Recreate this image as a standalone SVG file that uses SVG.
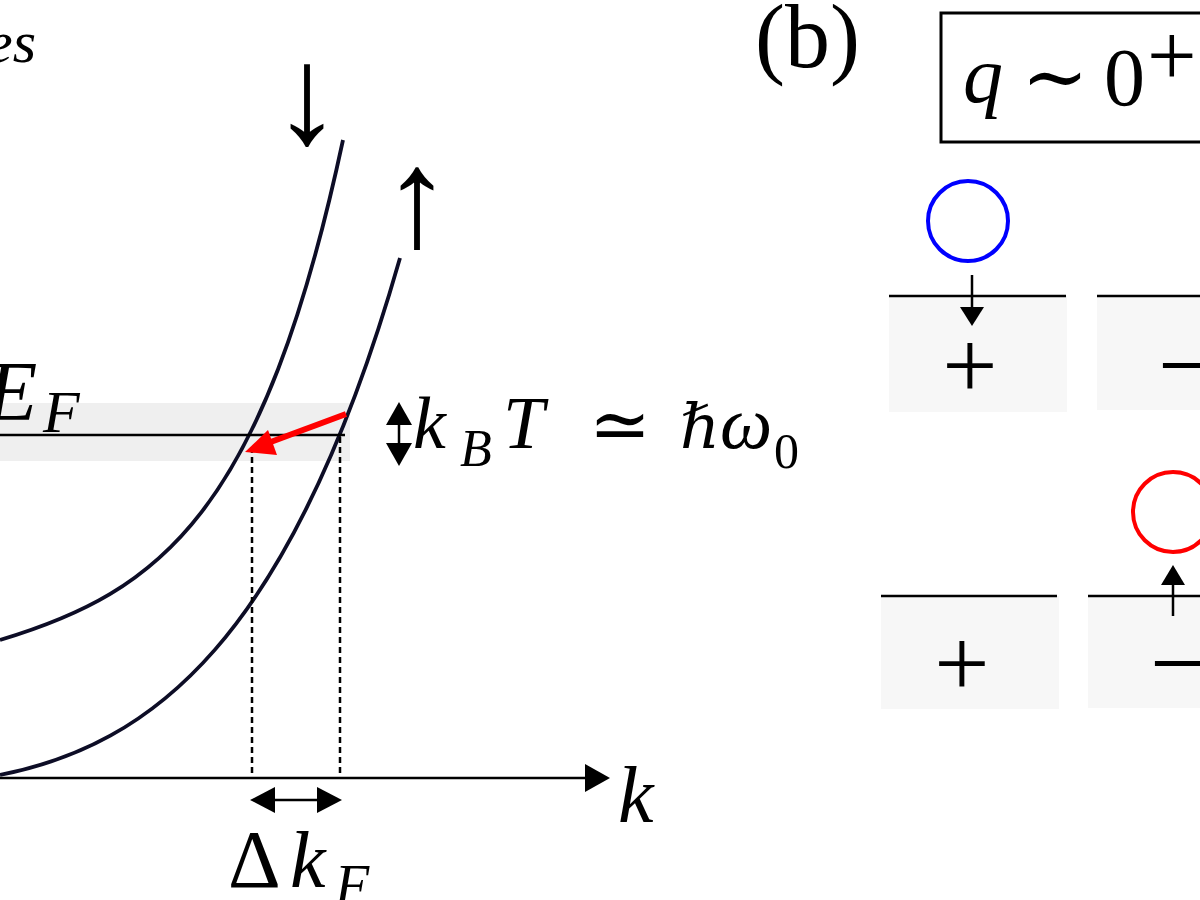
<svg xmlns="http://www.w3.org/2000/svg" width="1200" height="900" viewBox="0 0 1200 900">
<style>
.m{font-family:"Liberation Serif","DejaVu Serif",serif;font-style:italic;fill:#000}
.r{font-family:"Liberation Serif","DejaVu Serif",serif;fill:#000}
.curve{fill:none;stroke:#0d0d26;stroke-width:3.8}
.ln{stroke:#000;stroke-width:2.5;fill:none}
.dot{stroke:#000;stroke-width:2.5;stroke-dasharray:6 4;fill:none}
.band{fill:#efefef}
.cell{fill:#f7f7f7}
.ah{fill:#000}
</style>
<rect width="1200" height="900" fill="#fff"/>
<g id="panel-a">
  <text id="label-es" class="m" x="-14" y="62" font-size="60">es</text>
  <g id="fermi-band">
    <rect class="band" x="0" y="403" width="350" height="58"/>
  </g>
  <g id="connectors">
    <path class="curve" d="M0,640 C160,592 263,513.6 343,140"/>
    <path class="curve" d="M0,775 C150,745 290,643 400,258"/>
    <line class="ln" x1="0" y1="435" x2="345" y2="435"/>
    <line class="dot" x1="252" y1="447" x2="252" y2="777"/>
    <line class="dot" x1="340" y1="437" x2="340" y2="777"/>
    <line class="ln" x1="0" y1="778" x2="590" y2="778"/>
    <polygon class="ah" points="610,778 585,764 585,792"/>
    <line class="ln" x1="270" y1="800" x2="322" y2="800"/>
    <polygon class="ah" points="250,800 275,787 275,813"/>
    <polygon class="ah" points="342,800 317,787 317,813"/>
    <line class="ln" x1="399" y1="420" x2="399" y2="448"/>
    <polygon class="ah" points="399,402 386,425 412,425"/>
    <polygon class="ah" points="399,466 386,443 412,443"/>
    <line x1="346" y1="414" x2="268" y2="443" stroke="#ff0000" stroke-width="6"/>
    <polygon fill="#ff0000" points="245,452 268,430 277,455"/>
  </g>
  <g id="spin-down">
    <text class="r" x="307" y="143" font-size="140" text-anchor="middle">↓</text>
  </g>
  <g id="spin-up">
    <text class="r" x="417" y="246" font-size="140" text-anchor="middle">↑</text>
  </g>
  <g id="label-EF">
    <text class="m" x="-14" y="420" font-size="84">E</text>
    <text class="m" x="43" y="432" font-size="60">F</text>
  </g>
  <g id="label-kT">
    <text class="m" x="413" y="448" font-size="74">k</text>
    <text class="m" x="460" y="466" font-size="52">B</text>
    <text class="m" x="503" y="448" font-size="74">T</text>
    <text class="r" x="620" y="450" font-size="74" text-anchor="middle">≃</text>
    <text class="m" x="680" y="448" font-size="62">ℏ</text>
    <text class="m" x="720" y="448" font-size="74">ω</text>
    <text class="r" x="774" y="468" font-size="50">0</text>
  </g>
  <g id="label-k">
    <text class="m" x="618" y="822" font-size="80">k</text>
  </g>
  <g id="label-dkF">
    <text class="r" x="228" y="887" font-size="82">Δ</text>
    <text class="m" x="290" y="887" font-size="80">k</text>
    <text class="m" x="335" y="904" font-size="56">F</text>
  </g>
</g>
<g id="panel-b">
  <text id="label-b" class="r" x="755" y="67" font-size="90">(b)</text>
  <g id="q-box">
    <rect x="941" y="13" width="280" height="129" fill="none" stroke="#000" stroke-width="3"/>
    <text class="m" x="963" y="102" font-size="80">q</text>
    <text class="r" x="1055" y="104" font-size="80" text-anchor="middle">∼</text>
    <text class="r" x="1104" y="105" font-size="82">0</text>
    <text class="r" x="1147" y="85" font-size="88">+</text>
  </g>
  <g id="cell-top-left">
    <rect class="cell" x="889" y="296" width="178" height="116"/>
    <line class="ln" x1="889" y1="296" x2="1066" y2="296"/>
    <text class="r" x="970" y="398" font-size="98" text-anchor="middle">+</text>
  </g>
  <g id="cell-top-right">
    <rect class="cell" x="1097" y="296" width="110" height="114"/>
    <line class="ln" x1="1097" y1="296" x2="1205" y2="296"/>
    <text class="r" x="1158" y="398" font-size="98">−</text>
  </g>
  <g id="cell-bottom-left">
    <rect class="cell" x="881" y="596" width="178" height="113"/>
    <line class="ln" x1="881" y1="596" x2="1057" y2="596"/>
    <text class="r" x="962" y="696" font-size="98" text-anchor="middle">+</text>
  </g>
  <g id="cell-bottom-right">
    <rect class="cell" x="1088" y="596" width="120" height="112"/>
    <line class="ln" x1="1088" y1="596" x2="1205" y2="596"/>
    <text class="r" x="1150" y="696" font-size="98">−</text>
  </g>
  <g id="particle-blue">
    <circle cx="968" cy="221" r="40" fill="none" stroke="#0000ff" stroke-width="4"/>
  </g>
  <g id="particle-red">
    <circle cx="1173" cy="512" r="40" fill="none" stroke="#ff0000" stroke-width="4"/>
  </g>
  <g id="connectors-b">
    <line class="ln" x1="972" y1="275" x2="972" y2="310"/>
    <polygon class="ah" points="972,326 960,307 984,307"/>
    <line class="ln" x1="1173" y1="616" x2="1173" y2="582"/>
    <polygon class="ah" points="1173,565 1161,585 1185,585"/>
  </g>
</g>
</svg>
